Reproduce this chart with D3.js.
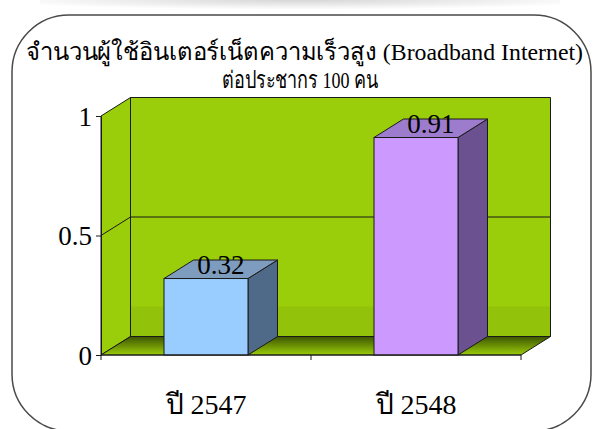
<!DOCTYPE html>
<html>
<head>
<meta charset="utf-8">
<script src="https://cdn.jsdelivr.net/npm/d3@7/dist/d3.min.js"></script>
<style>
  html, body { margin: 0; padding: 0; background: #fff; }
  svg { display: block; }
  text { font-family: "Liberation Serif", "DejaVu Serif", serif; fill: #000; }
</style>
</head>
<body>
<div id="chart"></div>
<script>
// chart data
const categories = ['ปี 2547', 'ปี 2548'];
const values = [0.32, 0.91];
const valueLabels = ['0.32', '0.91'];
const yTicks = [0, 0.5, 1];
const titleLines = ['จำนวนผู้ใช้อินเตอร์เน็ตความเร็วสูง (Broadband Internet)', 'ต่อประชากร 100 คน'];

// bar face colours: front, top, side
const barColors = [
    {front: '#99ccff', top: '#7e9cbd', side: '#4f6a88'},
    {front: '#cc99ff', top: '#9d7ccd', side: '#6b5190'}
];

const width = 593, height = 429;
const plot = {left: 101, right: 521, top: 116, bottom: 355};
const depth = {dx: 29.5, dy: -18.5};

const svg = d3.select('#chart')
    .append('svg')
    .attr('width', width)
    .attr('height', height);

const defs = svg.append('defs');

const floorGrad = defs.append('linearGradient')
    .attr('id', 'floorGrad')
    .attr('x1', 0).attr('y1', 0).attr('x2', 0).attr('y2', 1);
floorGrad.append('stop').attr('offset', '0%').attr('stop-color', '#3d5500');
floorGrad.append('stop').attr('offset', '100%').attr('stop-color', '#9acd0a');

const shadeGrad = defs.append('radialGradient')
    .attr('id', 'shadeGrad')
    .attr('cx', 0.5).attr('cy', 0).attr('r', 0.6);
shadeGrad.append('stop').attr('offset', '0%').attr('stop-color', '#d6d6d6');
shadeGrad.append('stop').attr('offset', '100%').attr('stop-color', '#ffffff');

// faint grey band behind the top of the frame
svg.append('rect')
    .attr('x', 40).attr('y', 0)
    .attr('width', 520).attr('height', 16)
    .attr('fill', 'url(#shadeGrad)');

// rounded frame
svg.append('rect')
    .attr('x', 12).attr('y', 15)
    .attr('width', 579).attr('height', 416)
    .attr('rx', 57).attr('ry', 57)
    .attr('fill', '#fff')
    .attr('stroke', '#4a4a4a')
    .attr('stroke-width', 1.5);

// title
svg.append('text')
    .attr('x', 304.5).attr('y', 60)
    .attr('text-anchor', 'middle')
    .attr('font-size', 24)
    .attr('textLength', 557)
    .attr('lengthAdjust', 'spacingAndGlyphs')
    .text(titleLines[0]);
svg.append('text')
    .attr('x', 300).attr('y', 88)
    .attr('text-anchor', 'middle')
    .attr('font-size', 24)
    .attr('textLength', 156)
    .attr('lengthAdjust', 'spacingAndGlyphs')
    .text(titleLines[1]);

// scales
const x = d3.scaleBand()
    .domain(categories)
    .range([plot.left, plot.right])
    .padding(0);
const barWidth = x.bandwidth() * 0.4;

const y = d3.scaleLinear()
    .domain([0, 1])
    .range([plot.bottom, plot.top]);

const y0 = y(0), y1 = y(1);
const dx = depth.dx, dy = depth.dy;
const pts = p => p.map(d => d.join(',')).join(' ');

const chart = svg.append('g');

// back wall
chart.append('polygon')
    .attr('points', pts([[plot.left + dx, y1 + dy], [plot.right + dx, y1 + dy], [plot.right + dx, y0 + dy], [plot.left + dx, y0 + dy]]))
    .attr('fill', '#9acd0a')
    .attr('stroke', '#1a1a1a')
    .attr('stroke-width', 1);

// side wall
chart.append('polygon')
    .attr('points', pts([[plot.left, y1], [plot.left + dx, y1 + dy], [plot.left + dx, y0 + dy], [plot.left, y0]]))
    .attr('fill', '#9acd0a')
    .attr('stroke', '#1a1a1a')
    .attr('stroke-width', 1);

// slightly darker band near the bottom of the walls
chart.append('rect')
    .attr('x', plot.left + dx).attr('y', y0 + dy - 30)
    .attr('width', plot.right - plot.left).attr('height', 30)
    .attr('fill', '#000').attr('opacity', 0.05);

// gridlines
const grid = chart.append('g');
yTicks.filter(t => t > 0 && t < 1).forEach(t => {
    grid.append('line')
        .attr('x1', plot.left + dx).attr('x2', plot.right + dx)
        .attr('y1', y(t) + dy).attr('y2', y(t) + dy)
        .attr('stroke', '#1a1a1a');
    grid.append('line')
        .attr('x1', plot.left).attr('x2', plot.left + dx)
        .attr('y1', y(t)).attr('y2', y(t) + dy)
        .attr('stroke', '#1a1a1a');
});

// floor
chart.append('polygon')
    .attr('points', pts([[plot.left, y0], [plot.left + dx, y0 + dy], [plot.right + dx, y0 + dy], [plot.right, y0]]))
    .attr('fill', 'url(#floorGrad)')
    .attr('stroke', '#1a1a1a')
    .attr('stroke-width', 1);

// bars
const bars = chart.selectAll('g.bar')
    .data(values)
    .enter()
    .append('g')
    .attr('class', 'bar');

bars.each(function(v, i) {
    const g = d3.select(this);
    const l = x(categories[i]) + (x.bandwidth() - barWidth) / 2;
    const r = l + barWidth;
    const t = y(v);
    const c = barColors[i];

    g.append('polygon')
        .attr('points', pts([[r, t], [r + dx, t + dy], [r + dx, y0 + dy], [r, y0]]))
        .attr('fill', c.side).attr('stroke', '#1a1a1a');
    g.append('polygon')
        .attr('points', pts([[l, t], [l + dx, t + dy], [r + dx, t + dy], [r, t]]))
        .attr('fill', c.top).attr('stroke', '#1a1a1a');
    g.append('rect')
        .attr('x', l).attr('y', t)
        .attr('width', barWidth).attr('height', y0 - t)
        .attr('fill', c.front).attr('stroke', '#1a1a1a');

    g.append('text')
        .attr('x', (l + r) / 2 + dx / 2)
        .attr('y', t - 5)
        .attr('text-anchor', 'middle')
        .attr('font-size', 27)
        .text(valueLabels[i]);
});

// y axis
const yAxis = chart.append('g')
    .attr('transform', `translate(${plot.left},0)`)
    .call(d3.axisLeft(y).tickValues(yTicks).tickSize(5).tickSizeOuter(0).tickFormat(d => String(d)));
yAxis.select('.domain').attr('stroke', '#1a1a1a');
yAxis.selectAll('.tick line').attr('stroke', '#1a1a1a');
yAxis.selectAll('.tick text')
    .attr('font-size', 27)
    .attr('font-family', '"Liberation Serif", serif')
    .attr('fill', '#000')
    .attr('x', -9)
    .attr('dy', '0.35em');

// x axis: line with ticks at the category boundaries
const xAxis = chart.append('g');
xAxis.append('line')
    .attr('x1', plot.left).attr('x2', plot.right)
    .attr('y1', y0).attr('y2', y0)
    .attr('stroke', '#1a1a1a');
const boundaries = categories.map(c => x(c)).concat([plot.right]);
xAxis.selectAll('line.tick')
    .data(boundaries)
    .enter()
    .append('line')
    .attr('class', 'tick')
    .attr('x1', d => d).attr('x2', d => d)
    .attr('y1', y0).attr('y2', y0 + 5)
    .attr('stroke', '#1a1a1a');
xAxis.selectAll('text.cat')
    .data(categories)
    .enter()
    .append('text')
    .attr('class', 'cat')
    .attr('x', d => x(d) + x.bandwidth() / 2)
    .attr('y', 414)
    .attr('text-anchor', 'middle')
    .attr('font-size', 28)
    .text(d => d);
</script>
</body>
</html>
